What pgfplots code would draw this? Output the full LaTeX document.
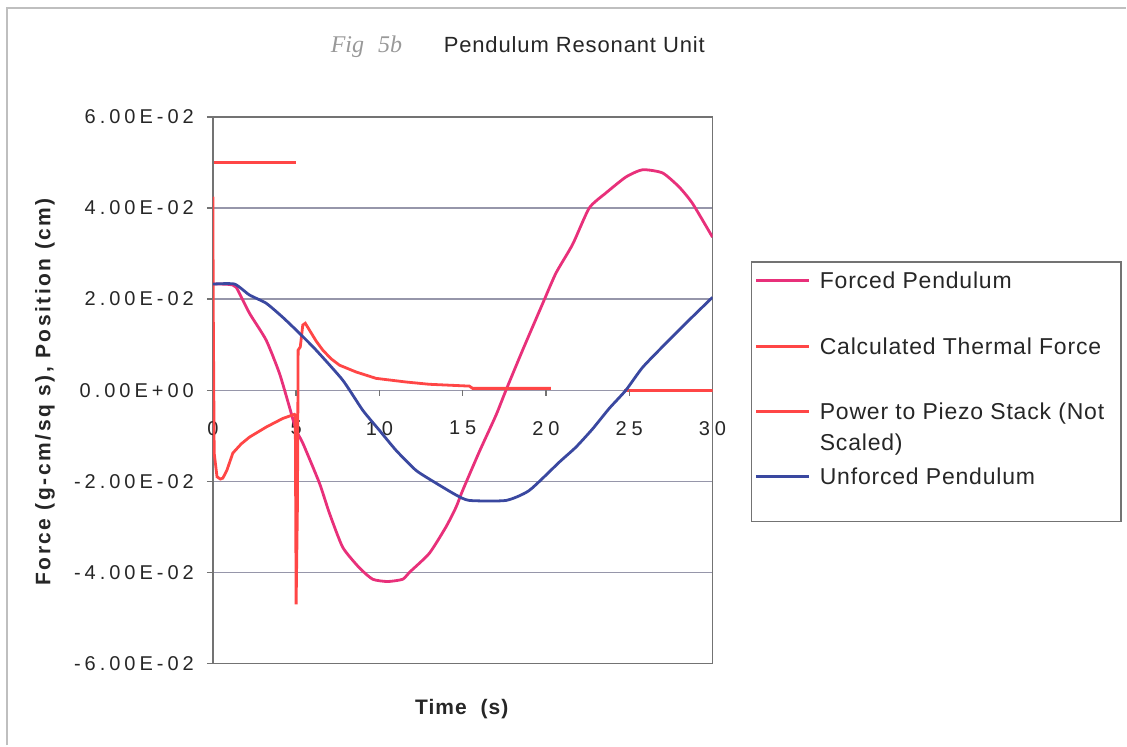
\documentclass[border=0pt]{standalone}
\usepackage{fontspec}
\setmainfont{Liberation Sans}
\newfontfamily\handfont{Liberation Serif}
\usepackage{pgfplots}
\pgfplotsset{compat=1.18}
\definecolor{forced}{RGB}{232,48,122}
\definecolor{therm}{RGB}{255,70,70}
\definecolor{unf}{RGB}{58,72,160}
\definecolor{gridc}{RGB}{150,150,170}
\begin{document}
\begin{tikzpicture}
\path (0pt,0pt) rectangle (563.5pt,373pt);
\draw[gray!50, line width=0.8pt] (3.5pt,0pt) -- (3.5pt,369pt) -- (563.5pt,369pt);
\begin{axis}[
  at={(106.5pt,41pt)}, anchor=south west,
  width=250pt, height=273.5pt, scale only axis,
  xmin=0, xmax=30, ymin=-0.06, ymax=0.06,
  axis line style={black!55, line width=0.8pt},
  xtick={0,5,10,15,20,25,30},
  xticklabels={0,5,10,15,20,25,30},
  ytick={-0.06,-0.04,-0.02,0,0.02,0.04,0.06},
  yticklabels={-6.00E-02,-4.00E-02,-2.00E-02,0.00E+00,2.00E-02,4.00E-02,6.00E-02},
  scaled y ticks=false, scaled x ticks=false,
  xtick pos=bottom, ytick pos=left,
  tick align=outside, major tick length=3pt,
  ytick style={black!55, line width=0.7pt},
  xtick style={draw=none},
  ymajorgrids, major grid style={gridc, line width=0.7pt},
  yticklabel style={font=\fontsize{10}{12}\selectfont\addfontfeatures{LetterSpace=20}, text=black!85, xshift=-3pt},
  xticklabel style={font=\fontsize{10}{12}\selectfont\addfontfeatures{LetterSpace=24}, text=black!85, anchor=center, yshift=120.75pt},
  xlabel={Time\ \ (s)},
  xlabel style={at={(axis description cs:0.498,-0.084)}, anchor=center, font=\bfseries\fontsize{10.5}{12}\selectfont\addfontfeatures{LetterSpace=5}, text=black!85},
  ylabel={Force (g-cm/sq s), Position (cm)},
  ylabel style={at={(axis description cs:-0.336,0.497)}, anchor=center, rotate=0, font=\bfseries\fontsize{10.5}{12}\selectfont\addfontfeatures{LetterSpace=12}, text=black!85},
  unbounded coords=jump,
  clip=true,
]
\addplot[forced, line width=1.4pt, smooth, tension=0.35] coordinates {
(0,0.0233)(0.5,0.0233)(1.0,0.0232)(1.4,0.0226)(2.2,0.0169)(3.2,0.011)(4.0,0.0037)(4.6,-0.0037)(5.0,-0.0088)(5.4,-0.0116)(6.4,-0.0204)(7.0,-0.027)(7.8,-0.0345)(8.8,-0.039)(9.6,-0.0415)(10.5,-0.0420)(11.4,-0.0415)(11.8,-0.0400)(13,-0.0358)(14,-0.0300)(14.6,-0.0257)(15,-0.0220)(16,-0.0135)(17,-0.0055)(17.6,0.0)(18.6,0.0088)(19.8,0.0190)(20.6,0.0257)(21.6,0.0320)(22.6,0.0400)(23.6,0.0433)(24.8,0.0468)(25.8,0.0484)(27,0.0477)(28,0.0446)(28.8,0.0410)(30,0.0336)
};
\addplot[therm, line width=1.4pt] coordinates {
(0,0.0425)(0.03,0.015)(0.08,-0.0138)(0.25,-0.0190)(0.45,-0.0195)(0.6,-0.0193)(0.84,-0.0176)(1.2,-0.0138)(1.7,-0.0118)(2.2,-0.0103)(3.2,-0.0081)(4.2,-0.0062)(4.9,-0.0053)(4.95,-0.0055)(5.0,-0.047)(5.08,-0.025)(5.12,0.0088)(5.25,0.0095)(5.4,0.0143)(5.55,0.0147)(5.8,0.0132)(6.2,0.0108)(6.6,0.0088)(7.1,0.0069)(7.6,0.0055)(8.6,0.0040)(9.8,0.0026)(11.6,0.0018)(13,0.0013)(15.4,0.0009)(15.6,0.0004)(20.3,0.0004)
};
\addplot[therm, line width=1.4pt] coordinates {
(0.05,0.05)(5.0,0.05)(5.01,nan)(24.7,0)(30,0)
};
\addplot[unf, line width=1.4pt, smooth, tension=0.35] coordinates {
(0,0.0233)(1.3,0.0233)(2.2,0.0209)(3.2,0.0191)(4.2,0.0160)(5.2,0.0125)(6.2,0.0088)(7.8,0.0022)(9,-0.0044)(10,-0.0088)(11,-0.0132)(12.2,-0.0176)(13.4,-0.0204)(14.6,-0.0230)(15.4,-0.0242)(17.6,-0.0242)(19,-0.0220)(20.8,-0.0158)(21.8,-0.0125)(22.8,-0.0085)(23.8,-0.0040)(24.8,0.0)(25.8,0.0050)(27.2,0.0103)(28.4,0.0147)(30,0.0204)
};
\pgfplotsinvokeforeach{5,10,15,20,25}{\draw[black!55, line width=0.7pt] (axis cs:#1,0) -- ++(0pt,-3pt);}
\end{axis}
% titles
\node[anchor=base west, font=\fontsize{11}{13}\selectfont\addfontfeatures{LetterSpace=4}, text=black!85] at (218.5pt,346.5pt) {Pendulum Resonant Unit};
\node[anchor=base west, font=\handfont\itshape\fontsize{12}{14}\selectfont, text=black!40] at (162pt,346.5pt) {Fig\,\, 5b};
% legend
\draw[black!55, line width=0.8pt] (376pt,242pt) rectangle (561pt,112pt);
\begin{scope}[every node/.style={anchor=base west, font=\fontsize{11.5}{15.5}\selectfont\addfontfeatures{LetterSpace=3.5}, text=black!85, inner sep=0pt}]
\draw[forced, line width=1.4pt] (378.5pt,232.5pt) -- (405pt,232.5pt);
\node at (410pt,228.4pt) {Forced Pendulum};
\draw[therm, line width=1.4pt] (378.5pt,199.5pt) -- (405pt,199.5pt);
\node at (410pt,195.4pt) {Calculated Thermal Force};
\draw[therm, line width=1.4pt] (378.5pt,167pt) -- (405pt,167pt);
\node at (410pt,162.9pt) {Power to Piezo Stack (Not};
\node at (410pt,147.4pt) {Scaled)};
\draw[unf, line width=1.4pt] (378.5pt,134.5pt) -- (405pt,134.5pt);
\node at (410pt,130.4pt) {Unforced Pendulum};
\end{scope}
\end{tikzpicture}
\end{document}
